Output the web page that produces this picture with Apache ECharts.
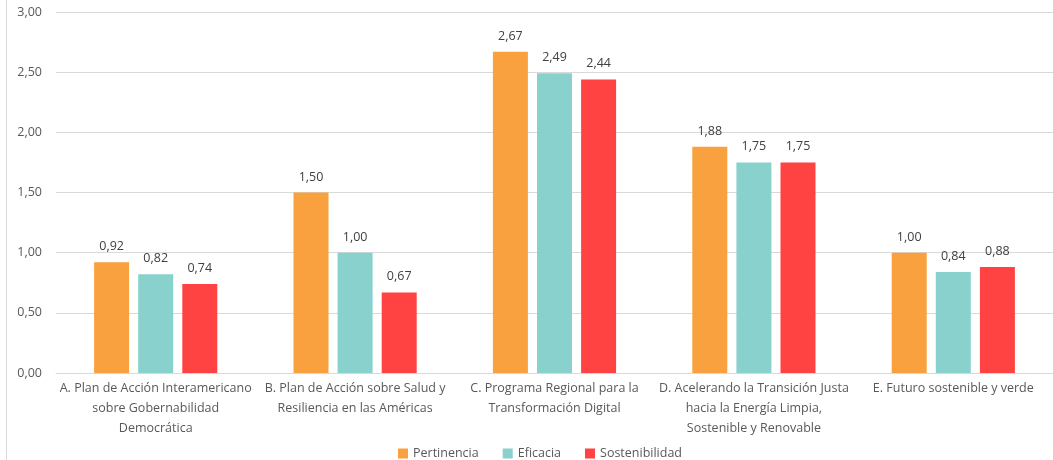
<!DOCTYPE html>
<html>
<head>
<meta charset="utf-8">
<script src="https://cdn.jsdelivr.net/npm/echarts@6/dist/echarts.min.js"></script>
<style>
  html, body { margin: 0; padding: 0; background: #fff; }
  #chart { width: 1053px; height: 460px; }
</style>
</head>
<body>
<div id="chart"></div>
<script>
const categories = [
  'A. Plan de Acción Interamericano\nsobre Gobernabilidad\nDemocrática',
  'B. Plan de Acción sobre Salud y\nResiliencia en las Américas',
  'C. Programa Regional para la\nTransformación Digital',
  'D. Acelerando la Transición Justa\nhacia la Energía Limpia,\nSostenible y Renovable',
  'E. Futuro sostenible y verde'
];
const pertinencia = [0.92, 1.50, 2.67, 1.88, 1.00];
const eficacia = [0.82, 1.00, 2.49, 1.75, 0.84];
const sostenibilidad = [0.74, 0.67, 2.44, 1.75, 0.88];

const fmt = v => v.toFixed(2).replace('.', ',');
const font = '"Open Sans", "Noto Sans", sans-serif';

const chart = echarts.init(document.getElementById('chart'));

function bar(name, data, color) {
  return {
    name: name,
    type: 'bar',
    data: data,
    barWidth: 35,
    barGap: '26%',
    itemStyle: { color: color },
    label: {
      show: true,
      position: 'top',
      distance: 9,
      color: '#404040',
      fontSize: 12.5,
      fontFamily: font,
      formatter: p => fmt(p.value)
    }
  };
}

chart.setOption({
  animation: false,
  textStyle: { fontFamily: font },
  grid: { left: 56, right: 0, top: 12, bottom: 87 },
  legend: {
    bottom: 0,
    left: 398,
    padding: 0,
    itemWidth: 10,
    itemHeight: 10,
    itemGap: 24,
    icon: 'rect',
    textStyle: { color: '#595959', fontSize: 12.5, fontFamily: font },
    data: ['Pertinencia', 'Eficacia', 'Sostenibilidad']
  },
  xAxis: {
    type: 'category',
    data: categories,
    axisTick: { show: false },
    axisLine: { lineStyle: { color: '#d9d9d9' } },
    axisLabel: {
      color: '#595959',
      fontSize: 12.5,
      fontFamily: font,
      lineHeight: 20,
      margin: 5,
      interval: 0
    }
  },
  yAxis: {
    type: 'value',
    min: 0,
    max: 3,
    interval: 0.5,
    axisLine: { show: false },
    axisTick: { show: false },
    splitLine: { lineStyle: { color: '#d9d9d9' } },
    axisLabel: {
      color: '#595959',
      fontSize: 12.5,
      fontFamily: font,
      margin: 14,
      formatter: v => fmt(v)
    }
  },
  graphic: [{
    type: 'line',
    shape: { x1: 6.5, y1: 0, x2: 6.5, y2: 460 },
    style: { stroke: '#d9d9d9', lineWidth: 1 }
  }],
  series: [
    bar('Pertinencia', pertinencia, '#F9A03F'),
    bar('Eficacia', eficacia, '#89D1CC'),
    bar('Sostenibilidad', sostenibilidad, '#FF4343')
  ]
});
</script>
</body>
</html>
